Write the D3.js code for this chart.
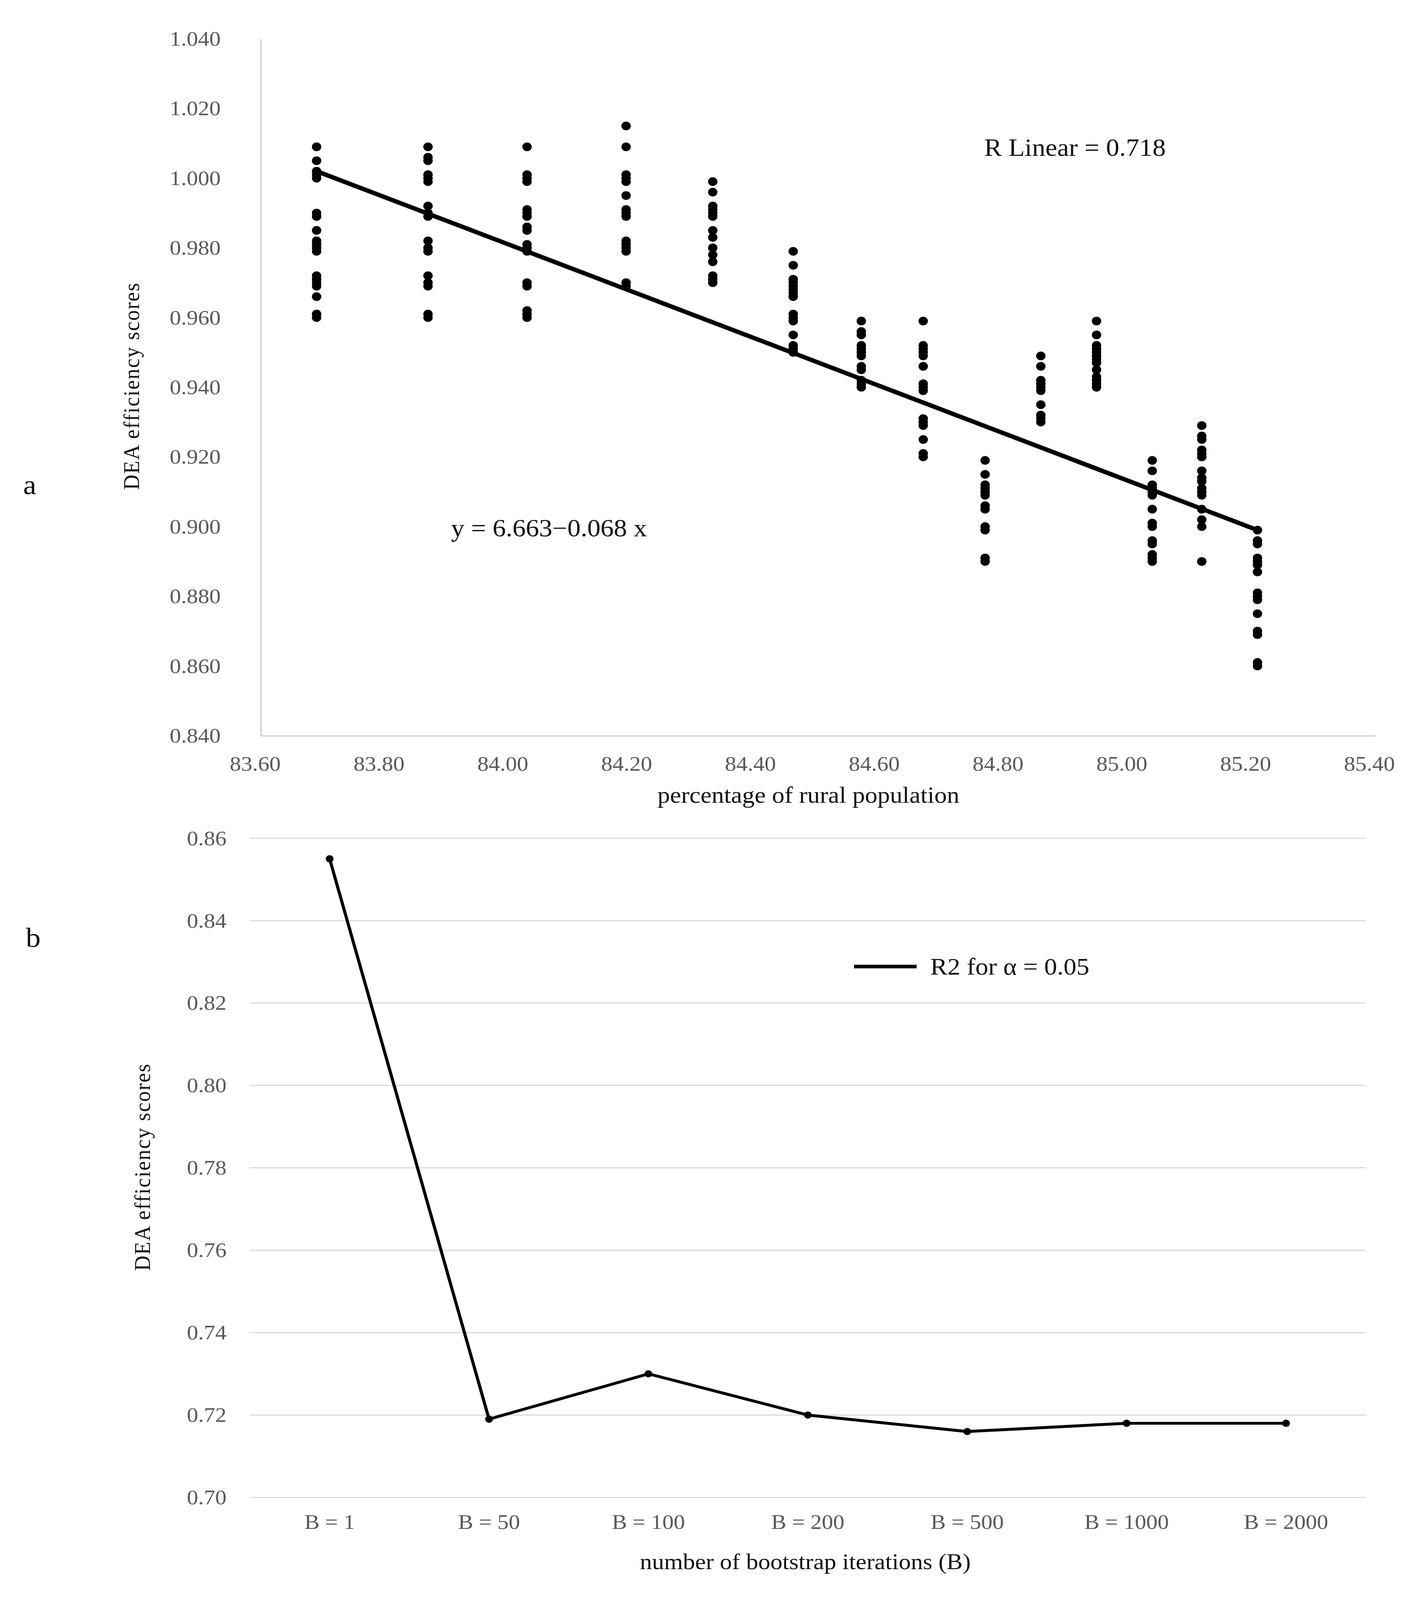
<!DOCTYPE html>
<html>
<head>
<meta charset="utf-8">
<script src="https://cdn.jsdelivr.net/npm/d3@7"></script>
<style>
  html, body { margin: 0; padding: 0; background: #fff; overflow: hidden; }
  #chart { display: block; width: 100vw; height: 100vh; }
  text { font-family: "Liberation Serif", "Times New Roman", serif; }
</style>
</head>
<body>
<svg id="chart" viewBox="0 0 3636 4415" preserveAspectRatio="none"></svg>
<script>
// ---- data: panel a ----
const ruralPct = [83.69, 83.87, 84.03, 84.19, 84.33, 84.46, 84.57, 84.67, 84.77, 84.86, 84.95, 85.04, 85.12, 85.21];
const deaScores = [
  [1.009, 1.005, 1.002, 1.001, 1.000, 0.990, 0.989, 0.985, 0.982, 0.981, 0.980, 0.979, 0.972, 0.971, 0.970, 0.969, 0.966, 0.961, 0.960],
  [1.009, 1.006, 1.005, 1.001, 1.000, 0.999, 0.992, 0.990, 0.989, 0.982, 0.980, 0.979, 0.972, 0.970, 0.969, 0.961, 0.960],
  [1.009, 1.001, 1.000, 0.999, 0.991, 0.990, 0.989, 0.986, 0.985, 0.981, 0.980, 0.979, 0.970, 0.969, 0.962, 0.961, 0.960],
  [1.015, 1.009, 1.001, 1.000, 0.999, 0.995, 0.991, 0.990, 0.989, 0.982, 0.981, 0.980, 0.979, 0.970, 0.969],
  [0.999, 0.996, 0.992, 0.991, 0.990, 0.989, 0.985, 0.983, 0.980, 0.978, 0.976, 0.972, 0.971, 0.970],
  [0.979, 0.975, 0.971, 0.970, 0.969, 0.968, 0.967, 0.966, 0.961, 0.960, 0.959, 0.955, 0.952, 0.951, 0.950],
  [0.959, 0.956, 0.955, 0.952, 0.951, 0.950, 0.949, 0.946, 0.945, 0.942, 0.941, 0.940],
  [0.959, 0.952, 0.951, 0.950, 0.949, 0.946, 0.941, 0.940, 0.939, 0.931, 0.930, 0.929, 0.925, 0.921, 0.920],
  [0.919, 0.915, 0.912, 0.911, 0.910, 0.909, 0.906, 0.905, 0.900, 0.899, 0.891, 0.890],
  [0.949, 0.946, 0.942, 0.941, 0.940, 0.939, 0.935, 0.932, 0.931, 0.930],
  [0.959, 0.955, 0.952, 0.951, 0.950, 0.949, 0.948, 0.947, 0.945, 0.943, 0.942, 0.941, 0.940],
  [0.919, 0.916, 0.912, 0.911, 0.910, 0.909, 0.905, 0.901, 0.900, 0.896, 0.895, 0.892, 0.891, 0.890],
  [0.929, 0.926, 0.925, 0.922, 0.921, 0.920, 0.916, 0.914, 0.913, 0.911, 0.910, 0.909, 0.905, 0.902, 0.900, 0.890],
  [0.899, 0.896, 0.895, 0.891, 0.890, 0.889, 0.887, 0.881, 0.880, 0.879, 0.875, 0.870, 0.869, 0.861, 0.860]
];
const fitLine = [[83.69, 1.002], [85.21, 0.899]];
const topXTicks = [83.6, 83.8, 84.0, 84.2, 84.4, 84.6, 84.8, 85.0, 85.2, 85.4];
const topYTicks = [0.84, 0.86, 0.88, 0.90, 0.92, 0.94, 0.96, 0.98, 1.00, 1.02, 1.04];

// ---- data: panel b ----
const bootLabels = ["B = 1", "B = 50", "B = 100", "B = 200", "B = 500", "B = 1000", "B = 2000"];
const r2Values = [0.855, 0.719, 0.730, 0.720, 0.716, 0.718, 0.718];
const bottomYTicks = [0.70, 0.72, 0.74, 0.76, 0.78, 0.80, 0.82, 0.84, 0.86];

const svg = d3.select("#chart");
const grey = "#595959";

// ================= panel a =================
const x1 = d3.scaleLinear().domain([83.6, 85.4]).range([668, 3521]);
const y1 = d3.scaleLinear().domain([0.84, 1.04]).range([2030, 107]);

const gx1 = svg.append("g")
  .attr("transform", "translate(0,2030)")
  .call(d3.axisBottom(x1).tickValues(topXTicks).tickFormat(d3.format(".2f")).tickSize(0).tickPadding(56));
gx1.selectAll("text").attr("transform", "translate(-15,0)");

const gy1 = svg.append("g")
  .attr("transform", "translate(668,0)")
  .call(d3.axisLeft(y1).tickValues(topYTicks).tickFormat(d3.format(".3f")).tickSize(0).tickPadding(103));

[gx1, gy1].forEach(g => {
  g.select(".domain").attr("stroke", "#d4d4d4").attr("stroke-width", 4);
  g.selectAll("text").style("font-size", "58px").attr("fill", grey)
    .style("font-family", "'Liberation Serif', serif");
});

// scatter points
const pts = [];
ruralPct.forEach((xv, i) => deaScores[i].forEach(v => pts.push([xv, v])));
svg.append("g")
  .selectAll("circle")
  .data(pts)
  .enter()
  .append("circle")
    .attr("cx", d => x1(d[0]))
    .attr("cy", d => y1(d[1]))
    .attr("r", 12)
    .attr("fill", "#000");

// fitted line
svg.append("path")
  .datum(fitLine)
  .attr("d", d3.line().x(d => x1(d[0])).y(d => y1(d[1])))
  .attr("stroke", "#000")
  .attr("stroke-width", 12)
  .attr("fill", "none");

svg.append("text")
  .attr("x", 2520).attr("y", 430)
  .style("font-size", "68px")
  .attr("fill", "#111")
  .text("R Linear = 0.718");

svg.append("text")
  .attr("x", 1155).attr("y", 1480)
  .style("font-size", "68px")
  .attr("fill", "#111")
  .text("y = 6.663\u22120.068 x");

svg.append("text")
  .attr("x", 2070).attr("y", 2215)
  .attr("text-anchor", "middle")
  .style("font-size", "64px")
  .attr("fill", "#111")
  .text("percentage of rural population");

svg.append("text")
  .attr("transform", "translate(356,1065) rotate(-90)")
  .attr("text-anchor", "middle")
  .style("font-size", "58px")
  .style("letter-spacing", "2.5px")
  .attr("fill", "#111")
  .text("DEA efficiency scores");

svg.append("text")
  .attr("x", 76).attr("y", 1364)
  .attr("text-anchor", "middle")
  .style("font-size", "76px")
  .attr("fill", "#111")
  .text("a");

// ================= panel b =================
const x2 = d3.scaleBand().domain(bootLabels).range([640, 3497]);
const y2 = d3.scaleLinear().domain([0.70, 0.86]).range([4132, 2313]);

// gridlines
svg.append("g")
  .selectAll("line")
  .data(bottomYTicks)
  .enter()
  .append("line")
    .attr("x1", 640).attr("x2", 3497)
    .attr("y1", d => y2(d)).attr("y2", d => y2(d))
    .attr("stroke", "#d9d9d9")
    .attr("stroke-width", 3);

const gy2 = svg.append("g")
  .attr("transform", "translate(640,0)")
  .call(d3.axisLeft(y2).tickValues(bottomYTicks).tickFormat(d3.format(".2f")).tickSize(0).tickPadding(60));
gy2.select(".domain").remove();

const gx2 = svg.append("g")
  .attr("transform", "translate(0,4132)")
  .call(d3.axisBottom(x2).tickSize(0).tickPadding(46));
gx2.select(".domain").remove();

[gx2, gy2].forEach(g => {
  g.selectAll("text").style("font-size", "58px").attr("fill", grey)
    .style("font-family", "'Liberation Serif', serif");
});

const bootData = bootLabels.map((b, i) => [b, r2Values[i]]);

svg.append("path")
  .datum(bootData)
  .attr("d", d3.line().x(d => x2(d[0]) + x2.bandwidth() / 2).y(d => y2(d[1])))
  .attr("stroke", "#000")
  .attr("stroke-width", 8)
  .attr("stroke-linejoin", "round")
  .attr("fill", "none");

svg.append("g")
  .selectAll("circle")
  .data(bootData)
  .enter()
  .append("circle")
    .attr("cx", d => x2(d[0]) + x2.bandwidth() / 2)
    .attr("cy", d => y2(d[1]))
    .attr("r", 10)
    .attr("fill", "#000");

// legend
svg.append("line")
  .attr("x1", 2187).attr("x2", 2347)
  .attr("y1", 2667).attr("y2", 2667)
  .attr("stroke", "#000")
  .attr("stroke-width", 10);
svg.append("text")
  .attr("x", 2382).attr("y", 2689)
  .style("font-size", "66px")
  .attr("fill", "#111")
  .text("R2 for \u03b1 = 0.05");

svg.append("text")
  .attr("x", 2062).attr("y", 4330)
  .attr("text-anchor", "middle")
  .style("font-size", "62px")
  .attr("fill", "#111")
  .text("number of bootstrap iterations (B)");

svg.append("text")
  .attr("transform", "translate(384,3220) rotate(-90)")
  .attr("text-anchor", "middle")
  .style("font-size", "58px")
  .style("letter-spacing", "2.5px")
  .attr("fill", "#111")
  .text("DEA efficiency scores");

svg.append("text")
  .attr("x", 85).attr("y", 2613)
  .attr("text-anchor", "middle")
  .style("font-size", "76px")
  .attr("fill", "#111")
  .text("b");
</script>
</body>
</html>
